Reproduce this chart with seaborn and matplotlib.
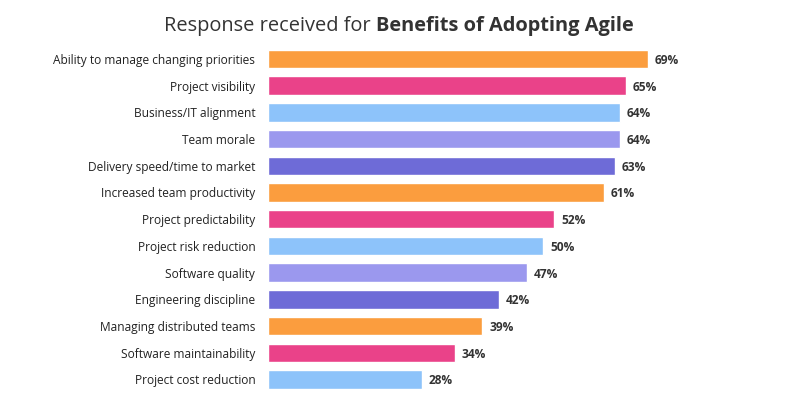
import matplotlib
matplotlib.use("Agg")
import matplotlib.pyplot as plt
import seaborn as sns
import pandas as pd

categories = [
    "Ability to manage changing priorities",
    "Project visibility",
    "Business/IT alignment",
    "Team morale",
    "Delivery speed/time to market",
    "Increased team productivity",
    "Project predictability",
    "Project risk reduction",
    "Software quality",
    "Engineering discipline",
    "Managing distributed teams",
    "Software maintainability",
    "Project cost reduction",
]
values = [69, 65, 64, 64, 63, 61, 52, 50, 47, 42, 39, 34, 28]
colors = ["#FB9D3E", "#EA4289", "#8DC3FA", "#9B98EE", "#6E6BD7",
          "#FB9D3E", "#EA4289", "#8DC3FA", "#9B98EE", "#6E6BD7",
          "#FB9D3E", "#EA4289", "#8DC3FA"]
title_regular = "Response received for "
title_bold = "Benefits of Adopting Agile"

sns.set_theme(style="white")
plt.rcParams["font.family"] = ["Open Sans", "DejaVu Sans"]

df = pd.DataFrame({"cat": categories, "val": values})

fig = plt.figure(figsize=(7.97, 4.0), dpi=100)
ax = fig.add_axes([0.336, 0.018, 0.614, 0.868])
sns.barplot(data=df, x="val", y="cat", hue="cat", palette=colors,
            legend=False, orient="h", width=0.69, ax=ax, saturation=1)
ax.set_xlim(0, 88.9)
ax.set_ylim(len(categories) - 0.5, -0.5)
for s in ax.spines.values():
    s.set_visible(False)
ax.set_xticks([])
ax.set_xlabel("")
ax.set_ylabel("")
ax.tick_params(axis="y", length=0, pad=9, labelsize=8.6, labelcolor="#222222")
for lab in ax.get_yticklabels():
    lab.set_verticalalignment("center_baseline")

for i, v in enumerate(values):
    ax.annotate(f"{v}%", xy=(v, i), xytext=(5, 0), textcoords="offset points",
                va="center_baseline", ha="left", fontsize=8.6, fontweight="bold",
                color="#333333")

# Title with mixed weight
fig.canvas.draw()
r = fig.canvas.get_renderer()
t1 = fig.text(0, 0.942, title_regular, fontsize=14.4, color="#333333",
              va="center_baseline", ha="left")
t2 = fig.text(0, 0.942, title_bold, fontsize=14.4, fontweight="bold", color="#333333",
              va="center_baseline", ha="left")
w1 = t1.get_window_extent(r).width
w2 = t2.get_window_extent(r).width
W = fig.bbox.width
cx = 399
x0 = cx - (w1 + w2) / 2
t1.set_x(x0 / W)
t2.set_x((x0 + w1) / W)

fig.savefig("out.png", dpi=100, facecolor="white")
